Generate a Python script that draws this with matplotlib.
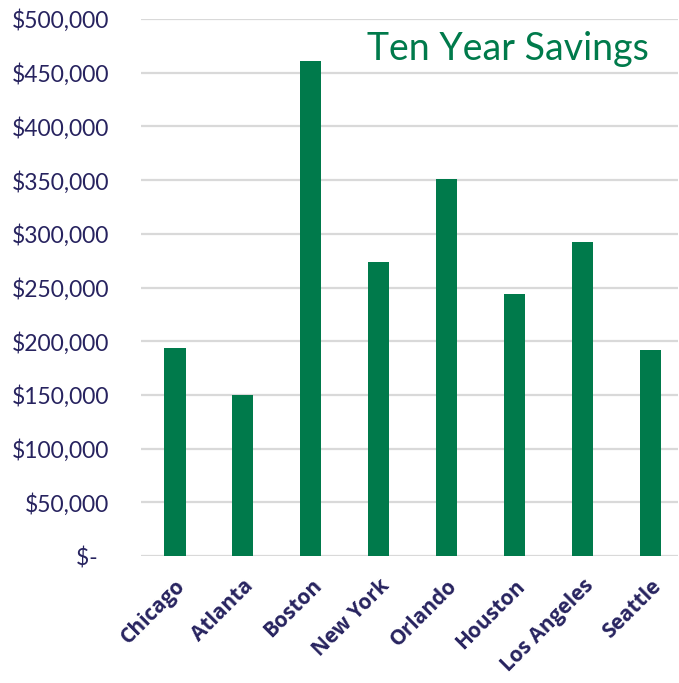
import matplotlib.pyplot as plt

# Ten year savings by city
cities = ["Chicago", "Atlanta", "Boston", "New York", "Orlando", "Houston", "Los Angeles", "Seattle"]
savings = [194000, 150000, 461000, 274000, 351000, 244000, 292000, 192000]
yticks = [0, 50000, 100000, 150000, 200000, 250000, 300000, 350000, 400000, 450000, 500000]
ytick_labels = ["$-  ", "$50,000", "$100,000", "$150,000", "$200,000", "$250,000",
                "$300,000", "$350,000", "$400,000", "$450,000", "$500,000"]

green = "#007A4B"
navy = "#27235F"

fig = plt.figure(figsize=(6.79, 6.83), dpi=100)
ax = fig.add_axes([141 / 679, 127 / 683, (678 - 141) / 679, (556 - 19) / 683])

ax.bar(range(len(cities)), savings, width=0.31, color=green, zorder=3)

ax.set_ylim(0, 500000)
ax.set_xlim(-0.5, 7.4)
ax.set_yticks(yticks)
ax.set_yticklabels(ytick_labels, fontfamily="Lato", fontsize=16.5, color=navy)
ax.set_xticks(range(len(cities)))
ax.set_xticklabels(cities, rotation=45, ha="right", rotation_mode="anchor",
                   fontfamily="Open Sans", fontweight="bold", fontsize=15, color=navy)
ax.tick_params(axis="y", length=0, pad=23)
ax.tick_params(axis="x", length=0, pad=14)

ax.grid(axis="y", color="#D9D9D9", linewidth=1.6, zorder=0)
for s in ax.spines.values():
    s.set_visible(False)

ax.text(0.945, 0.945, "Ten Year Savings", transform=ax.transAxes, ha="right", va="center",
        fontfamily="Lato", fontsize=27, color=green)

fig.savefig("out.png", dpi=100)
